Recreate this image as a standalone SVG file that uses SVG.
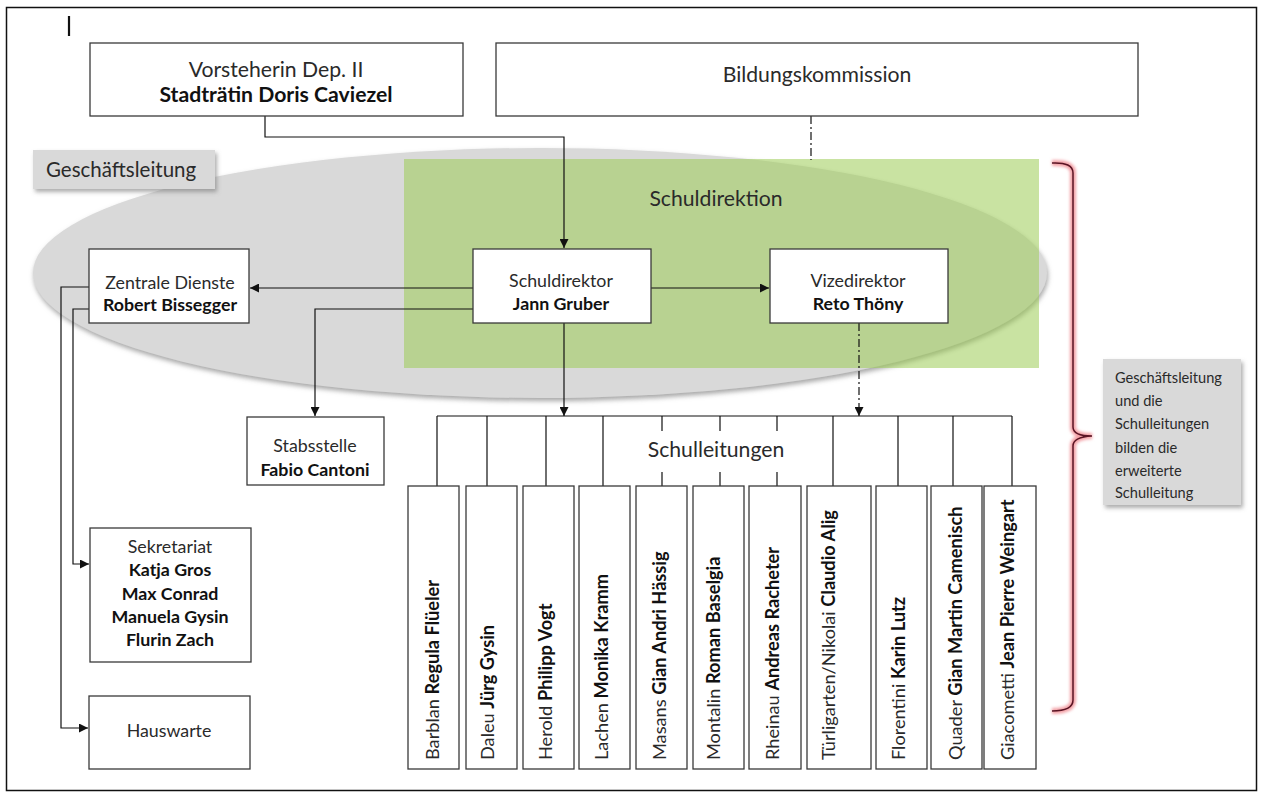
<svg xmlns="http://www.w3.org/2000/svg" width="1265" height="798" viewBox="0 0 1265 798">
<style>
text{font-family:Lato,"Liberation Sans",sans-serif;fill:#2a2a2a}
.b{font-weight:bold;fill:#111}
.big{font-size:21.2px}
.gl{font-size:20.5px}
.md{font-size:17.8px}
.vt{font-size:18.2px}
.nt{font-size:14.6px}
.box{fill:#fff;stroke:#3a3a3a;stroke-width:1.3}
.ln{fill:none;stroke:#111;stroke-width:1.2}
.dd{fill:none;stroke:#111;stroke-width:1.2;stroke-dasharray:8 3 2 3}
.mid{text-anchor:middle}
</style>
<defs>
<marker id="ah" markerUnits="userSpaceOnUse" markerWidth="10" markerHeight="9" refX="9" refY="4.5" orient="auto">
<path d="M0,0 L9,4.5 L0,9 z" fill="#111"/>
</marker>
<filter id="sh" x="-10%" y="-10%" width="125%" height="130%">
<feDropShadow dx="2" dy="3" stdDeviation="2" flood-color="#777" flood-opacity="0.6"/>
</filter>
<filter id="esh" x="-5%" y="-10%" width="110%" height="125%">
<feDropShadow dx="1" dy="3" stdDeviation="2.5" flood-color="#888" flood-opacity="0.75"/>
</filter>
<filter id="glow" x="-50%" y="-5%" width="200%" height="110%">
<feGaussianBlur stdDeviation="1.5"/>
</filter>
</defs>
<rect x="6.5" y="7.5" width="1250" height="783" fill="#fff" stroke="#111" stroke-width="1.5"/>
<line x1="69" y1="16" x2="69" y2="36" stroke="#111" stroke-width="2.2"/>

<g id="geschaeftsleitung-area">
<ellipse cx="540" cy="273" rx="507" ry="125" fill="#d9d9d9" filter="url(#esh)"/>
</g>
<g id="schuldirektion-area">
<rect x="404" y="159" width="635" height="209" fill="#9ccc55" fill-opacity="0.55"/>
<text class="big mid" x="716" y="206">Schuldirektion</text>
</g>
<g id="geschaeftsleitung-label">
<rect x="33" y="150" width="182" height="39" fill="#d9d9d9" filter="url(#sh)"/>
<text class="gl" x="46" y="177">Geschäftsleitung</text>
</g>

<g id="connectors">
<path class="ln" d="M265,116 V137 H564 V248" marker-end="url(#ah)"/>
<path class="dd" d="M811,116 V160"/>
<path class="ln" d="M473,288 H250" marker-end="url(#ah)"/>
<path class="ln" d="M651,288 H769" marker-end="url(#ah)"/>
<path class="ln" d="M473,309 H315 V416" marker-end="url(#ah)"/>
<path class="ln" d="M564,323 V416" marker-end="url(#ah)"/>
<path class="dd" d="M859,323 V416" marker-end="url(#ah)"/>
<path class="ln" d="M89,287 H61 V728 H88" marker-end="url(#ah)"/>
<path class="ln" d="M89,309 H73 V564 H89" marker-end="url(#ah)"/>
<path class="ln" d="M437,416 H1012"/>
<path class="ln" d="M437,416 V486 M487,416 V486 M546,416 V486 M603,416 V486 M662,416 V486 M720,416 V486 M777,416 V486 M833,416 V486 M898,416 V486 M953,416 V486 M1012,416 V486"/>
</g>

<g id="vorsteherin">
<rect class="box" x="90" y="43" width="373" height="73"/>
<text class="big mid" x="276" y="77">Vorsteherin Dep. II</text>
<text class="big mid b" x="276" y="102">Stadträtin Doris Caviezel</text>
</g>
<g id="bildungskommission">
<rect class="box" x="496" y="43" width="642" height="73"/>
<text class="big mid" x="817" y="82">Bildungskommission</text>
</g>
<g id="zentrale-dienste">
<rect class="box" x="89" y="249" width="160" height="74"/>
<text class="md mid" x="170" y="289">Zentrale Dienste</text>
<text class="md mid b" x="170" y="311">Robert Bissegger</text>
</g>
<g id="schuldirektor">
<rect class="box" x="473" y="249" width="178" height="74"/>
<text class="md mid" x="561" y="287">Schuldirektor</text>
<text class="md mid b" x="561" y="310">Jann Gruber</text>
</g>
<g id="vizedirektor">
<rect class="box" x="770" y="249" width="178" height="74"/>
<text class="md mid" x="858" y="287">Vizedirektor</text>
<text class="md mid b" x="858" y="310">Reto Thöny</text>
</g>
<g id="stabsstelle">
<rect class="box" x="247" y="417" width="137" height="68"/>
<text class="md mid" x="315" y="452">Stabsstelle</text>
<text class="md mid b" x="315" y="476">Fabio Cantoni</text>
</g>
<g id="sekretariat">
<rect class="box" x="90" y="528" width="161" height="134"/>
<text class="md mid" x="170" y="553">Sekretariat</text>
<text class="md mid b" x="170" y="576">Katja Gros</text>
<text class="md mid b" x="170" y="600">Max Conrad</text>
<text class="md mid b" x="170" y="623">Manuela Gysin</text>
<text class="md mid b" x="170" y="646">Flurin Zach</text>
</g>
<g id="hauswarte">
<rect class="box" x="89" y="696" width="161" height="73"/>
<text class="md mid" x="169" y="737">Hauswarte</text>
</g>
<g id="schulleitungen">
<rect x="612" y="431" width="218" height="41" fill="#fff"/>
<text class="big mid" x="716" y="457">Schulleitungen</text>
</g>

<g id="sl-barblan"><rect class="box" x="408" y="486" width="51" height="283"/><text class="vt" transform="translate(439,760) rotate(-90)">Barblan <tspan class="b">Regula Flüeler</tspan></text></g>
<g id="sl-daleu"><rect class="box" x="466" y="486" width="51" height="283"/><text class="vt" transform="translate(494,760) rotate(-90)">Daleu <tspan class="b">Jürg Gysin</tspan></text></g>
<g id="sl-herold"><rect class="box" x="523" y="486" width="51" height="283"/><text class="vt" transform="translate(552,760) rotate(-90)">Herold <tspan class="b">Philipp Vogt</tspan></text></g>
<g id="sl-lachen"><rect class="box" x="579" y="486" width="51" height="283"/><text class="vt" transform="translate(608,760) rotate(-90)">Lachen <tspan class="b">Monika Kramm</tspan></text></g>
<g id="sl-masans"><rect class="box" x="636" y="486" width="51" height="283"/><text class="vt" transform="translate(666,760) rotate(-90)">Masans <tspan class="b">Gian Andri Hässig</tspan></text></g>
<g id="sl-montalin"><rect class="box" x="693" y="486" width="51" height="283"/><text class="vt" transform="translate(720,760) rotate(-90)">Montalin <tspan class="b">Roman Baselgia</tspan></text></g>
<g id="sl-rheinau"><rect class="box" x="749" y="486" width="52" height="283"/><text class="vt" transform="translate(779,760) rotate(-90)">Rheinau <tspan class="b">Andreas Racheter</tspan></text></g>
<g id="sl-tuerligarten"><rect class="box" x="807" y="486" width="64" height="283"/><text class="vt" transform="translate(835,760) rotate(-90)">Türligarten/Nikolai <tspan class="b">Claudio Alig</tspan></text></g>
<g id="sl-florentini"><rect class="box" x="876" y="486" width="51" height="283"/><text class="vt" transform="translate(905,760) rotate(-90)">Florentini <tspan class="b">Karin Lutz</tspan></text></g>
<g id="sl-quader"><rect class="box" x="931" y="486" width="51" height="283"/><text class="vt" transform="translate(962,760) rotate(-90)">Quader <tspan class="b">Gian Martin Camenisch</tspan></text></g>
<g id="sl-giacometti"><rect class="box" x="984" y="486" width="52" height="283"/><text class="vt" transform="translate(1014,760) rotate(-90)">Giacometti <tspan class="b">Jean Pierre Weingart</tspan></text></g>

<g id="bracket">
<path d="M1052,163 Q1073,162 1073,173 L1073,427 Q1073,436 1092,436 Q1073,437 1073,446 L1073,700 Q1073,711 1052,711" fill="none" stroke="#f3a0a6" stroke-width="6" filter="url(#glow)"/>
<path d="M1052,163 Q1073,162 1073,173 L1073,427 Q1073,436 1092,436 Q1073,437 1073,446 L1073,700 Q1073,711 1052,711" fill="none" stroke="#5a1424" stroke-width="1.5"/>
</g>
<g id="note">
<rect x="1103" y="359" width="138" height="146" fill="#d9d9d9" filter="url(#sh)"/>
<text class="nt" x="1115" y="383">Geschäftsleitung</text>
<text class="nt" x="1115" y="406">und die</text>
<text class="nt" x="1115" y="429">Schulleitungen</text>
<text class="nt" x="1115" y="453">bilden die</text>
<text class="nt" x="1115" y="476">erweiterte</text>
<text class="nt" x="1115" y="498">Schulleitung</text>
</g>
</svg>
